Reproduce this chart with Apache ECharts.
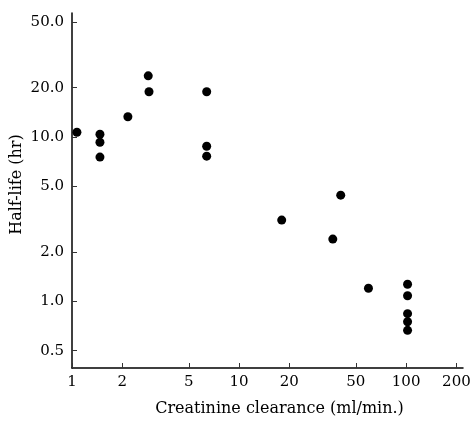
<!DOCTYPE html>
<html>
<head>
<meta charset="utf-8">
<script src="https://cdn.jsdelivr.net/npm/echarts@6/dist/echarts.min.js"></script>
<style>
  html, body { margin: 0; padding: 0; background: #fff; }
  #chart { width: 471px; height: 423px; }
</style>
</head>
<body>
<div id="chart"></div>
<script>
// creatinine clearance (ml/min) vs half-life (hr)
var clearance = [1.07, 1.47, 1.47, 1.47, 2.16, 2.86, 2.89, 6.4, 6.4, 6.4,
                 18.0, 36.4, 40.6, 59.5, 102, 102, 102, 102, 102];
var halfLife = [10.7, 10.4, 9.3, 7.55, 13.3, 23.6, 18.9, 18.9, 8.8, 7.65,
                3.12, 2.39, 4.43, 1.2, 1.27, 1.08, 0.84, 0.75, 0.665];
var xTicks = [1, 2, 5, 10, 20, 50, 100, 200];
var yTicks = [0.5, 1, 2, 5, 10, 20, 50];

var font = '"DejaVu Serif", "Liberation Serif", serif';
var chart = echarts.init(document.getElementById('chart'));

var points = clearance.map(function (c, i) { return [c, halfLife[i]]; });

chart.setOption({
  animation: false,
  grid: { left: 72, right: 8, top: 13, bottom: 55, outerBoundsMode: 'none' },
  xAxis: {
    type: 'log',
    min: 1,
    max: 219,
    name: 'Creatinine clearance (ml/min.)',
    nameLocation: 'middle',
    nameGap: 33,
    nameTextStyle: { fontFamily: font, fontSize: 16, color: '#000', padding: [0, 0, 0, 24] },
    axisLine: { lineStyle: { color: '#000', width: 1.5 } },
    axisTick: { inside: true, length: 5, customValues: xTicks, lineStyle: { color: '#333' } },
    minorTick: { show: false },
    axisLabel: {
      customValues: xTicks,
      margin: 7,
      fontFamily: font, fontSize: 15, color: '#000',
      formatter: function (v) { return String(Math.round(v)); }
    },
    splitLine: { show: false }
  },
  yAxis: {
    type: 'log',
    min: 0.392,
    max: 57,
    name: 'Half-life (hr)',
    nameLocation: 'middle',
    nameRotate: 90,
    nameGap: 47,
    nameMoveOverlap: false,
    nameTextStyle: { fontFamily: font, fontSize: 16, color: '#000', padding: [0, 0, 0, 12] },
    axisLine: { lineStyle: { color: '#000', width: 1.5 } },
    axisTick: { inside: true, length: 5, customValues: yTicks, lineStyle: { color: '#333' } },
    axisLabel: {
      customValues: yTicks,
      margin: 8,
      fontFamily: font, fontSize: 15, color: '#000',
      formatter: function (v) { return v.toFixed(1); }
    },
    splitLine: { show: false }
  },
  series: [{
    type: 'scatter',
    data: points,
    symbol: 'circle',
    symbolSize: 9,
    itemStyle: { color: '#000', opacity: 1 }
  }]
});
</script>
</body>
</html>
